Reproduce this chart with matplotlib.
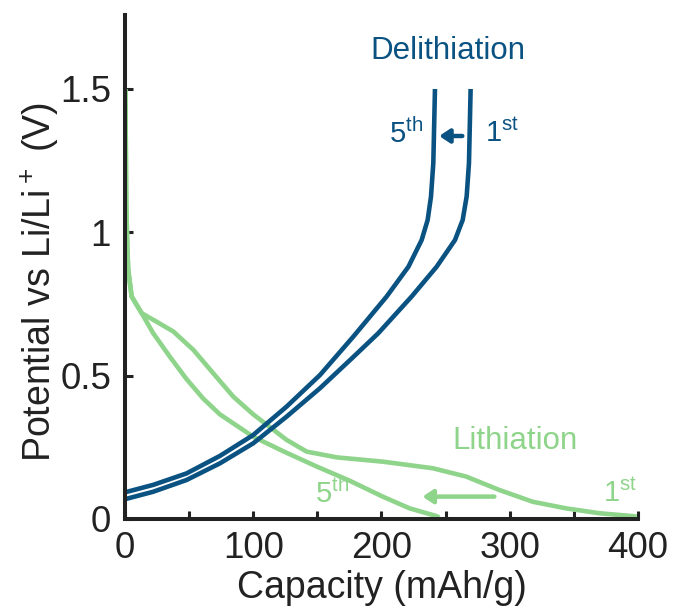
import numpy as np
import matplotlib
matplotlib.use("Agg")
import matplotlib.pyplot as plt

plt.rcParams['font.family'] = ['Liberation Sans', 'DejaVu Sans']
plt.rcParams['mathtext.fontset'] = 'custom'
plt.rcParams['mathtext.rm'] = 'Liberation Sans'

BLUE = '#0a5282'
GREEN = '#8ed48a'

# delithiation (charge) curves, capacity in mAh/g vs potential in V
delith_1st_cap = [0, 22, 48, 74, 100, 126, 152, 178, 197.5, 223.5, 243, 257.3, 263.3,
                  266.4, 268.2, 269.5]
delith_1st_v = [0.069, 0.095, 0.136, 0.194, 0.264, 0.357, 0.456, 0.565, 0.648, 0.776,
                0.88, 0.973, 1.043, 1.125, 1.241, 1.5]
delith_5th_cap = [0, 22, 48, 74, 100, 126, 152, 178, 204, 221, 231.3, 236, 238.6, 240.4,
                  241.7]
delith_5th_v = [0.093, 0.119, 0.159, 0.22, 0.293, 0.392, 0.502, 0.636, 0.776, 0.88,
                0.973, 1.043, 1.125, 1.241, 1.5]

# lithiation (discharge) curves
lith_1st_cap = [0.3, 1.0, 1.8, 2.5, 5.2, 13, 24.7, 37.7, 53.3, 68.9, 84.4, 100, 126,
                141.7, 165, 201, 240, 266, 292, 318, 344, 370, 396, 399]
lith_1st_v = [1.5, 1.1, 0.95, 0.87, 0.776, 0.718, 0.688, 0.654, 0.59, 0.508, 0.427,
              0.365, 0.276, 0.235, 0.215, 0.2, 0.177, 0.148, 0.101, 0.06, 0.037, 0.02,
              0.01, 0.008]
lith_5th_cap = [0.3, 1.0, 1.8, 2.5, 5.2, 13, 22, 35, 48, 61, 74, 100, 124, 150, 175,
                201, 222, 243, 245]
lith_5th_v = [1.5, 1.1, 0.95, 0.87, 0.776, 0.718, 0.648, 0.566, 0.488, 0.42, 0.365,
              0.287, 0.235, 0.182, 0.134, 0.078, 0.037, 0.01, 0.005]

fig = plt.figure(figsize=(6.73, 6.08), dpi=100)
ax = fig.add_axes([0.1857, 0.1464, 0.7623, 0.8289])

lw = 3.3
style = dict(lw=lw, solid_capstyle='butt', solid_joinstyle='round')
ax.plot(lith_1st_cap, lith_1st_v, color=GREEN, **style)
ax.plot(lith_5th_cap, lith_5th_v, color=GREEN, **style)
ax.plot(delith_1st_cap, delith_1st_v, color=BLUE, **style)
ax.plot(delith_5th_cap, delith_5th_v, color=BLUE, **style)

ax.set_xlim(0, 400)
ax.set_ylim(0, 1.758)
ax.set_xticks([0, 100, 200, 300, 400])
ax.set_xticks([50, 150, 250, 350], minor=True)
ax.set_yticks([0, 0.5, 1, 1.5])
ax.set_yticklabels(['0', '0.5', '1', '1.5'])
ax.tick_params(which='both', direction='in', length=6, width=2.2, colors='#222222',
               labelsize=26.5, labelcolor='#222222')
ax.tick_params(axis='x', pad=9)
ax.tick_params(axis='y', pad=10)

for s in ['top', 'right']:
    ax.spines[s].set_visible(False)
for s in ['left', 'bottom']:
    ax.spines[s].set_linewidth(2.9)
    ax.spines[s].set_color('#222222')

ax.set_xlabel('Capacity (mAh/g)', fontsize=27, color='#222222', labelpad=2.5)
ax.set_ylabel('Potential vs Li/Li$\\mathregular{^+}$ (V)', fontsize=27, color='#222222')
ax.yaxis.set_label_coords(-0.125, 0.47)

# annotations
arrow_kw = dict(arrowstyle='-|>,head_length=0.6,head_width=0.4', lw=3.2,
                shrinkA=0, shrinkB=0)
ax.text(252, 1.633, 'Delithiation', color=BLUE, fontsize=22.5, ha='center', va='center')
ax.text(206, 1.345, '5$\\mathregular{^{th}}$', color=BLUE, fontsize=21, ha='left', va='center')
ax.text(281, 1.345, '1$\\mathregular{^{st}}$', color=BLUE, fontsize=21, ha='left', va='center')
ax.annotate('', xy=(245, 1.336), xytext=(263, 1.336),
            arrowprops=dict(color=BLUE, **arrow_kw))

ax.text(304, 0.272, 'Lithiation', color=GREEN, fontsize=22.5, ha='center', va='center')
ax.text(148, 0.088, '5$\\mathregular{^{th}}$', color=GREEN, fontsize=21, ha='left', va='center')
ax.text(373, 0.088, '1$\\mathregular{^{st}}$', color=GREEN, fontsize=21, ha='left', va='center')
ax.annotate('', xy=(232, 0.078), xytext=(288, 0.078),
            arrowprops=dict(color=GREEN, **arrow_kw))

fig.savefig('out.png', dpi=100)
